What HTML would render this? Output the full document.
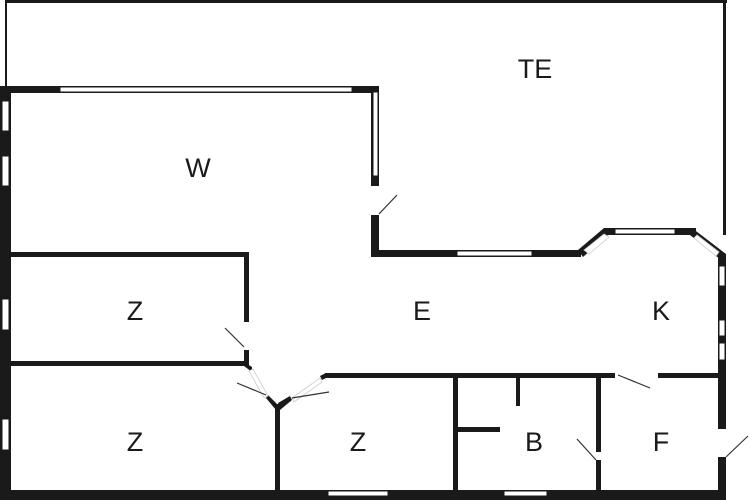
<!DOCTYPE html>
<html><head><style>html,body{margin:0;padding:0;background:#fff}svg{display:block}
text{font-family:"Liberation Sans",sans-serif;font-size:27px;fill:#1a1a1a;text-anchor:middle}</style></head>
<body>
<svg width="750" height="500" viewBox="0 0 750 500" xmlns="http://www.w3.org/2000/svg">
<rect width="750" height="500" fill="#fff"/>
<g fill="#1a1a1a">
<!-- terrace thin frame -->
<rect x="5" y="0" width="722" height="3"/>
<rect x="5" y="0" width="2" height="90"/>
<rect x="723" y="0" width="3" height="235"/>
<!-- left outer wall -->
<rect x="0" y="86" width="11" height="414"/>
<!-- top wall W -->
<rect x="0" y="86" width="379" height="7"/>
<!-- right wall W -->
<rect x="371" y="86" width="8" height="100"/>
<rect x="371" y="215" width="8" height="42"/>
<!-- bottom wall to bay -->
<rect x="371" y="250" width="210" height="7"/>
<polygon points="578,250 604,228 609,234 583,257"/>
<rect x="604" y="228" width="92" height="7"/>
<polygon points="692,228 726,254 721,260 690,235"/>
<!-- right wall -->
<rect x="718" y="254" width="8" height="175"/>
<rect x="718" y="457" width="8" height="43"/>
<!-- bottom wall -->
<rect x="0" y="490" width="726" height="10"/>
<!-- interior -->
<rect x="11" y="252" width="238" height="5"/>
<rect x="244" y="252" width="5" height="70"/>
<rect x="244" y="350" width="5" height="14"/>
<rect x="11" y="361" width="238" height="5"/>
<polygon points="244,362 252,367 252,372 244,366"/>
<polygon points="268,395 278,405 276,410 266,398"/>
<polygon points="278,403 290,396 292,400 280,410"/>
<rect x="275" y="404" width="5" height="88"/>
<polygon points="320,376 326,373 326,378 322,380"/>
<rect x="325" y="373" width="290" height="5"/>
<rect x="658" y="373" width="61" height="5"/>
<rect x="453" y="376" width="5" height="116"/>
<rect x="516" y="376" width="4" height="30"/>
<rect x="458" y="427" width="42" height="5"/>
<rect x="596" y="376" width="5" height="76"/>
<rect x="596" y="460" width="5" height="32"/>
</g>
<!-- windows -->
<g fill="#fff" stroke="#1a1a1a" stroke-width="1">
<rect x="2" y="101" width="7" height="30"/>
<rect x="2" y="156" width="7" height="30"/>
<rect x="2" y="299" width="7" height="31"/>
<rect x="2" y="419" width="7" height="31"/>
<rect x="60" y="87" width="292" height="5"/>
<rect x="373" y="92" width="5" height="84"/>
<rect x="457" y="251" width="75" height="5"/>
<rect x="615" y="229" width="60" height="5"/>
<rect x="719" y="266" width="6" height="20"/>
<rect x="719" y="320" width="6" height="16"/>
<rect x="719" y="343" width="6" height="17"/>
<rect x="328" y="491" width="60" height="5"/>
<rect x="504" y="491" width="43" height="5"/>
</g>
<g fill="#fff" stroke="#ccc" stroke-width="0.8">
<polygon points="584,250 604,234 609,237 589,254"/>
<polygon points="697,235 719,252 716,256 694,238"/>
<polygon points="253,369 268,396 264,398 249,371"/>
<polygon points="292,398 320,378 322,382 294,402"/>
</g>
<!-- door swings -->
<g stroke="#333" stroke-width="1.2">
<line x1="379" y1="214" x2="397" y2="195"/>
<line x1="244" y1="347" x2="225" y2="328"/>
<line x1="266" y1="395" x2="237" y2="383"/>
<line x1="292" y1="398" x2="329" y2="392"/>
<line x1="618" y1="375" x2="650" y2="388"/>
<line x1="596" y1="460" x2="577" y2="439"/>
<line x1="726" y1="457" x2="748" y2="436"/>
</g>
<text x="535" y="78">TE</text>
<text x="198" y="177">W</text>
<text x="135" y="320">Z</text>
<text x="422" y="320">E</text>
<text x="661" y="320">K</text>
<text x="135" y="451">Z</text>
<text x="358" y="451">Z</text>
<text x="534" y="451">B</text>
<text x="661" y="451">F</text>
</svg>
</body></html>
